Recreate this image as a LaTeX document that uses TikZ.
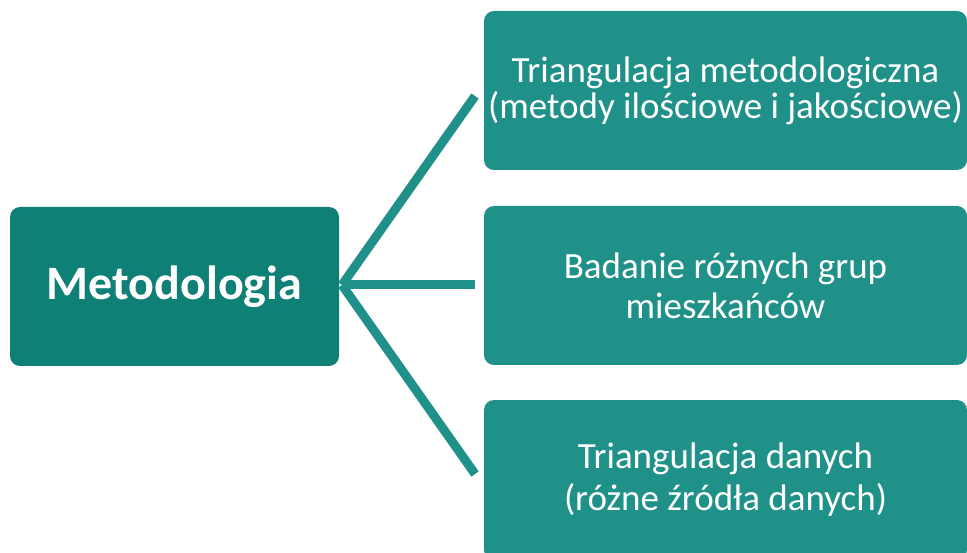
\documentclass[tikz,border=0pt]{standalone}
\usepackage{fontspec}
\setmainfont{Carlito}
\usetikzlibrary{positioning}
\definecolor{tealdark}{RGB}{14,128,118}
\definecolor{teallight}{RGB}{32,145,137}
\tikzset{
  mainbox/.style={fill=tealdark, rounded corners=10pt, minimum width=329pt, minimum height=159pt, text=white, align=center, inner sep=0pt, font=\fontsize{48}{52}\selectfont\bfseries},
  subbox/.style={fill=teallight, rounded corners=10pt, minimum width=483pt, minimum height=159pt, text=white, align=center, inner sep=0pt},
  link/.style={draw=teallight, line width=9pt}
}

\begin{document}
\begin{tikzpicture}[x=1pt, y=-1pt]
\useasboundingbox (0,0) rectangle (967,553);
\clip (0,0) rectangle (967,553);

%BOXES
\node [mainbox] (meth) at (174.5,286.5) {Metodologia};
\node [subbox, font=\fontsize{37}{36}\selectfont] (tri) at (725.5,90.5) {Triangulacja metodologiczna\\(metody ilościowe i jakościowe)};
\node [subbox, font=\fontsize{37}{40}\selectfont] (grp) at (725.5,285.5) {Badanie różnych grup\\mieszkańców};
\node [subbox, minimum height=160pt, font=\fontsize{37}{42}\selectfont] (dat) at (725.5,480) {Triangulacja danych\\(różne źródła danych)};

%Connectors
\coordinate (hub) at (342,285);
\coordinate (e1) at (475,96);
\coordinate (e2) at (475,285);
\coordinate (e3) at (475,474);
\foreach \e in {e1,e2,e3}
{
\draw [link] (hub) -- (\e);
}

\end{tikzpicture}
\end{document}
